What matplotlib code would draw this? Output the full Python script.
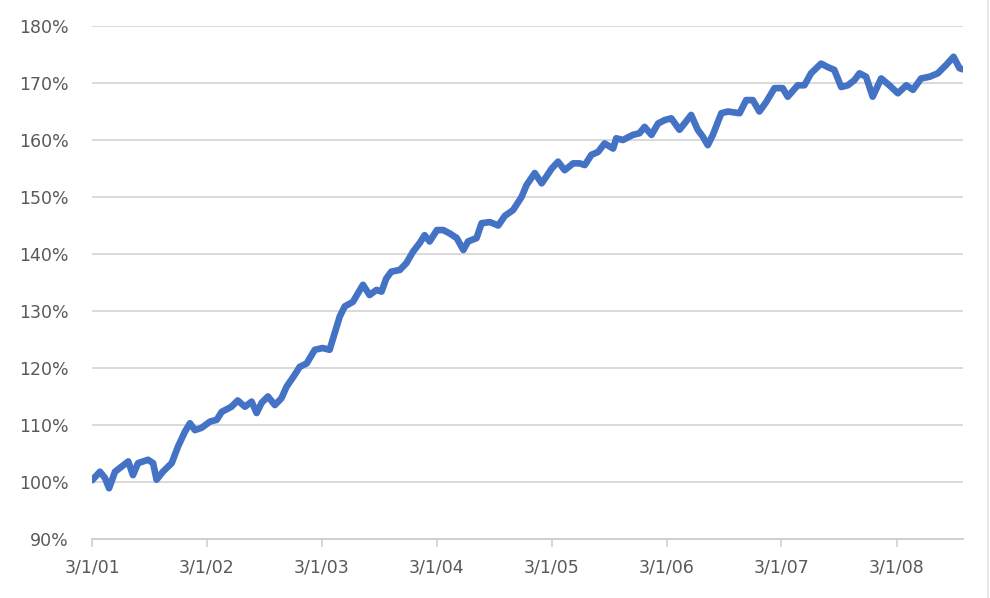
import matplotlib.pyplot as plt
import pandas as pd
from matplotlib.lines import Line2D

# values (growth of 1 unit, in %)
dates = [
    "2001-03-01", "2001-03-26", "2001-04-11", "2001-04-24", "2001-05-13", "2001-06-03",
    "2001-06-24", "2001-07-09", "2001-07-25", "2001-08-26", "2001-09-11", "2001-09-22",
    "2001-10-12", "2001-11-09", "2001-11-29", "2001-12-21", "2002-01-06", "2002-01-22",
    "2002-02-12", "2002-03-11", "2002-04-01", "2002-04-17", "2002-05-18", "2002-06-07",
    "2002-06-30", "2002-07-21", "2002-08-06", "2002-08-22", "2002-09-11", "2002-10-03",
    "2002-10-24", "2002-11-09", "2002-12-05", "2002-12-21", "2003-01-12", "2003-02-07",
    "2003-03-04", "2003-03-26", "2003-04-11", "2003-04-27", "2003-05-13", "2003-06-08",
    "2003-06-24", "2003-07-10", "2003-07-31", "2003-08-22", "2003-09-07", "2003-09-22",
    "2003-10-08", "2003-11-04", "2003-11-25", "2003-12-16", "2004-01-06", "2004-01-22",
    "2004-02-07", "2004-03-01", "2004-03-21", "2004-04-11", "2004-05-03", "2004-05-24",
    "2004-06-08", "2004-07-05", "2004-07-21", "2004-08-16", "2004-09-12", "2004-10-03",
    "2004-10-29", "2004-11-25", "2004-12-11", "2005-01-06", "2005-01-28", "2005-02-12",
    "2005-03-01", "2005-03-21", "2005-04-11", "2005-05-08", "2005-05-29", "2005-06-14",
    "2005-07-05", "2005-07-26", "2005-08-16", "2005-09-12", "2005-09-22", "2005-10-13",
    "2005-11-14", "2005-12-05", "2005-12-21", "2006-01-12", "2006-02-02", "2006-02-23",
    "2006-03-16", "2006-04-11", "2006-04-27", "2006-05-18", "2006-06-08", "2006-06-24",
    "2006-07-10", "2006-07-26", "2006-08-22", "2006-09-12", "2006-10-19", "2006-11-09",
    "2006-11-30", "2006-12-21", "2007-01-12", "2007-02-07", "2007-03-05", "2007-03-21",
    "2007-04-22", "2007-05-13", "2007-06-03", "2007-07-05", "2007-07-26", "2007-08-16",
    "2007-09-07", "2007-09-28", "2007-10-19", "2007-11-04", "2007-11-25", "2007-12-16",
    "2008-01-12", "2008-02-07", "2008-03-05", "2008-04-01", "2008-04-22", "2008-05-18",
    "2008-06-14", "2008-07-10", "2008-08-06", "2008-08-29", "2008-09-17", "2008-09-28",
]
values = [
    100.3, 101.8, 100.7, 98.9, 101.8, 102.7,
    103.6, 101.2, 103.3, 103.9, 103.3, 100.4,
    101.8, 103.3, 106.2, 108.8, 110.3, 109.1,
    109.5, 110.6, 110.9, 112.3, 113.2, 114.3,
    113.2, 114.1, 112.1, 113.9, 115.0, 113.5,
    114.7, 116.7, 118.8, 120.2, 120.8, 123.2,
    123.5, 123.2, 126.1, 129.0, 130.8, 131.6,
    133.1, 134.6, 132.8, 133.7, 133.4, 135.7,
    136.9, 137.2, 138.4, 140.4, 141.9, 143.3,
    142.2, 144.2, 144.2, 143.6, 142.8, 140.7,
    142.2, 142.8, 145.4, 145.6, 145.0, 146.7,
    147.7, 150.0, 152.1, 154.2, 152.4, 153.6,
    155.0, 156.2, 154.7, 155.9, 155.9, 155.6,
    157.4, 157.9, 159.4, 158.5, 160.3, 160.0,
    160.9, 161.2, 162.3, 160.9, 162.9, 163.5,
    163.8, 161.8, 162.9, 164.4, 161.8, 160.6,
    159.1, 160.9, 164.7, 165.0, 164.7, 167.0,
    167.0, 165.0, 166.7, 169.1, 169.1, 167.6,
    169.6, 169.6, 171.7, 173.4, 172.8, 172.3,
    169.3, 169.6, 170.5, 171.7, 171.1, 167.6,
    170.8, 169.6, 168.2, 169.6, 168.8, 170.8,
    171.1, 171.7, 173.2, 174.6, 172.6, 172.4,
]
tick_dates = ["2001-03-01", "2002-03-01", "2003-03-01", "2004-03-01",
              "2005-03-01", "2006-03-01", "2007-03-01", "2008-03-01"]
tick_labels = ["3/1/01", "3/1/02", "3/1/03", "3/1/04",
               "3/1/05", "3/1/06", "3/1/07", "3/1/08"]
y_ticks = [90, 100, 110, 120, 130, 140, 150, 160, 170, 180]

x = pd.to_datetime(dates)

fig = plt.figure(figsize=(9.9, 5.98), dpi=100)
ax = fig.add_axes([0.093, 0.0987, 0.8797, 0.8578])

ax.plot(x, values, color="#4472C4", linewidth=4.8, solid_capstyle="round",
        solid_joinstyle="round", zorder=3)

ax.set_ylim(90, 180)
ax.set_yticks(y_ticks)
ax.set_yticklabels([f"{v}%" for v in y_ticks])
ax.set_xlim(pd.Timestamp("2001-03-01"), pd.Timestamp("2008-09-28"))
ax.set_xticks(pd.to_datetime(tick_dates))
ax.set_xticklabels(tick_labels)

ax.grid(axis="y", color="#d9d9d9", linewidth=1.4, zorder=0)
for s in ["top", "right", "left"]:
    ax.spines[s].set_visible(False)
ax.spines["bottom"].set_color("#d0d0d0")
ax.spines["bottom"].set_linewidth(1.4)

ax.tick_params(axis="y", length=0, pad=17, labelsize=12.5, labelcolor="#595959")
ax.tick_params(axis="x", length=6, width=1.2, color="#d0d0d0", pad=8,
               labelsize=12.5, labelcolor="#595959")

# faint chart-area border on the right
fig.add_artist(Line2D([0.998, 0.998], [0, 1], color="#e6e6e6", linewidth=1.2))

fig.savefig("out.png", dpi=100)
